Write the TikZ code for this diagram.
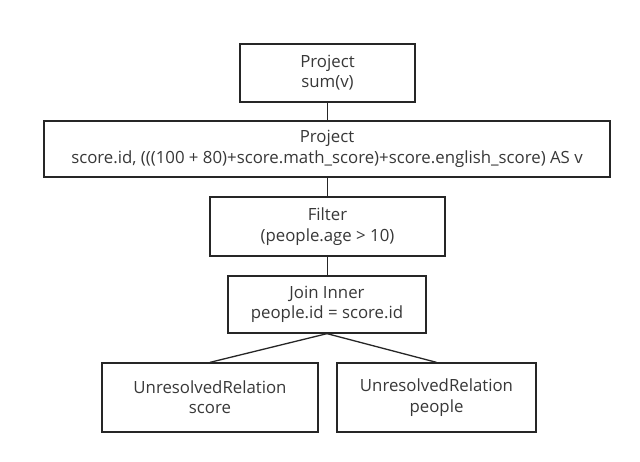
\documentclass[tikz,border=0pt]{standalone}
\usepackage{fontspec}
\setmainfont{Open Sans}
\begin{document}
\begin{tikzpicture}[x=1pt,y=-1pt,
  opbox/.style={draw=black!85,line width=1.3pt,align=center,inner sep=0pt,
    font=\fontsize{16.8}{20.3}\selectfont,text=black!78},
  link/.style={draw=black!85,line width=1.3pt}]
\useasboundingbox[fill=white] (0,0) rectangle (640,462);
\node[opbox,minimum width=175,minimum height=58] (p1) at (327.5,73) {Project\\sum(v)};
\node[opbox,minimum width=566,minimum height=56] (p2) at (327,149) {Project\\score.id, (((100 + 80)+score.math\_score)+score.english\_score) AS v};
\node[opbox,minimum width=235,minimum height=59] (f) at (327.5,226.5) {Filter\\(people.age > 10)};
\node[opbox,minimum width=198,minimum height=57] (j) at (327,304.5) {Join Inner\\people.id = score.id};
\node[opbox,minimum width=216,minimum height=69] (l) at (210,397.5) {UnresolvedRelation\\score};
\node[opbox,minimum width=199,minimum height=69] (r) at (436.5,397.5) {UnresolvedRelation\\people};
\draw[link] (p1.south) -- (p2.north -| p1.south);
\draw[link] (p2.south -| f.north) -- (f.north);
\draw[link] (f.south) -- (j.north -| f.south);
\draw[link] (j.south) -- (l.north);
\draw[link] (j.south) -- (r.north);
\end{tikzpicture}
\end{document}
